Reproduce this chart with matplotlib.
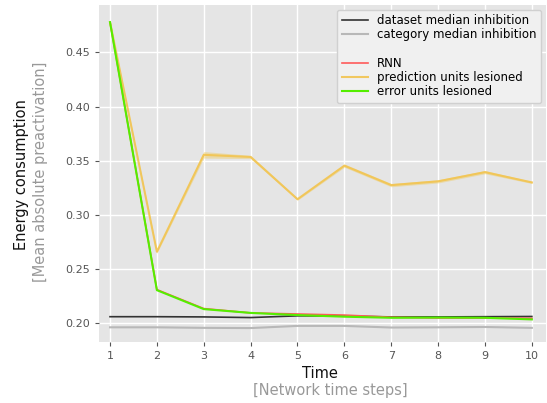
import matplotlib.pyplot as plt
import numpy as np

# Data
time_steps = [1, 2, 3, 4, 5, 6, 7, 8, 9, 10]
dataset_median = [0.206, 0.206, 0.2058, 0.2052, 0.2068, 0.2066, 0.2058, 0.2058, 0.206, 0.2062]
category_median = [0.1962, 0.1962, 0.1957, 0.1955, 0.1975, 0.1975, 0.196, 0.1962, 0.1965, 0.1957]
rnn = [0.478, 0.231, 0.2135, 0.2095, 0.2085, 0.2075, 0.2055, 0.2048, 0.2048, 0.2045]
pred_lesioned = [0.478, 0.266, 0.3555, 0.3535, 0.3145, 0.3455, 0.3275, 0.3310, 0.3395, 0.3300]
pred_band = [0.001, 0.0015, 0.003, 0.0015, 0.001, 0.0015, 0.0015, 0.0015, 0.0015, 0.001]
err_lesioned = [0.478, 0.2305, 0.2130, 0.2095, 0.2075, 0.2060, 0.2050, 0.2052, 0.2050, 0.2035]
y_ticks = [0.20, 0.25, 0.30, 0.35, 0.40, 0.45]

fig = plt.figure(figsize=(5.47, 4.03), dpi=100)
ax = fig.add_axes([0.181, 0.151, 0.817, 0.837])
ax.set_facecolor('#e5e5e5')

t = np.array(time_steps)
ax.plot(t, dataset_median, color='#333333', lw=1.2, label='dataset median inhibition', zorder=3)
ax.plot(t, category_median, color='#b8b8b8', lw=1.5, label='category median inhibition', zorder=3)
ax.plot([], [], color='none', label=' ')
ax.plot(t, rnn, color='#ff5a5a', lw=1.2, label='RNN', zorder=4)
p = np.array(pred_lesioned)
b = np.array(pred_band)
ax.fill_between(t, p - b, p + b, color='#f0c850', alpha=0.4, lw=0, zorder=3)
ax.plot(t, p, color='#f2c450', lw=1.5, alpha=0.9, label='prediction units lesioned', zorder=4)
ax.plot(t, err_lesioned, color='#55ee00', lw=1.5, label='error units lesioned', zorder=5)

ax.set_xlim(0.765, 10.3)
ax.set_ylim(0.1825, 0.494)
ax.set_xticks(time_steps)
ax.set_yticks(y_ticks)
ax.set_yticklabels([f'{v:.2f}' for v in y_ticks])
ax.grid(color='white', lw=1.0)
ax.set_axisbelow(True)
for s in ax.spines.values():
    s.set_visible(False)
ax.tick_params(colors='#555555', labelsize=8, length=3, width=0.8)

leg = ax.legend(loc='upper right', fontsize=8.5, frameon=True, handlelength=2.2,
                borderaxespad=0.4, labelspacing=0.1, handletextpad=0.8)
leg.get_frame().set_facecolor('#f0f0f0')
leg.get_frame().set_edgecolor('#d0d0d0')
leg.get_frame().set_alpha(1)

fig.text(0.585, 0.074, 'Time', ha='center', va='center', fontsize=10.5, color='#111111')
fig.text(0.603, 0.032, '[Network time steps]', ha='center', va='center', fontsize=10.5, color='#999999')
fig.text(0.04, 0.568, 'Energy consumption', ha='center', va='center', rotation=90, fontsize=10.5, color='#111111')
fig.text(0.074, 0.573, '[Mean absolute preactivation]', ha='center', va='center', rotation=90, fontsize=10.5, color='#999999')

fig.savefig('out.png', dpi=100)
